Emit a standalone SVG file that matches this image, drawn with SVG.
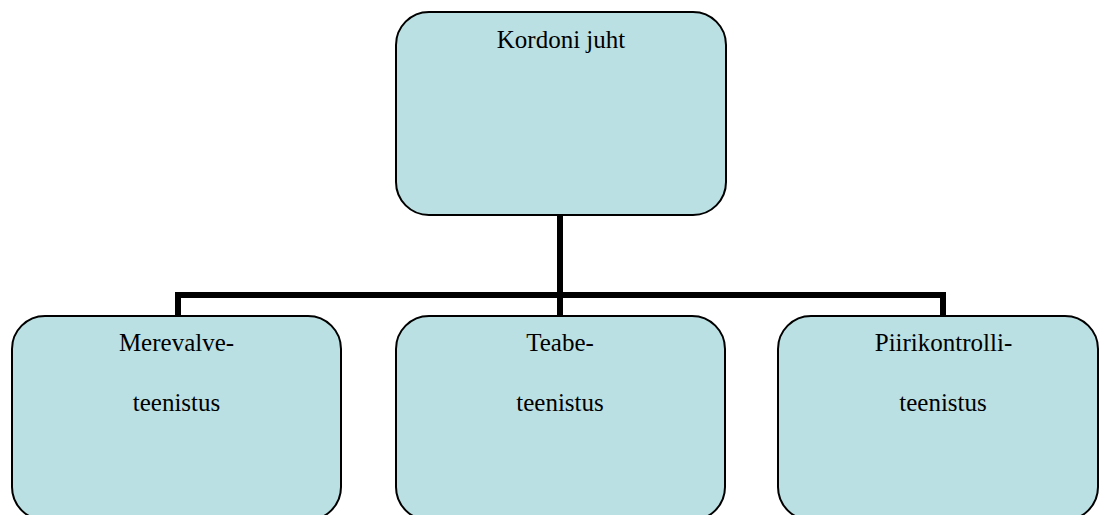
<svg xmlns="http://www.w3.org/2000/svg" width="1099" height="515" viewBox="0 0 1099 515">
<style>
.box{fill:#BBE0E3;stroke:#000;stroke-width:2}
.lbl{font-family:'Liberation Serif','Times New Roman',Times,'DejaVu Serif',serif;font-size:25px;fill:#000;text-anchor:middle}
.conn{fill:none;stroke:#000;stroke-width:6}
</style>
<rect width="1099" height="515" fill="#fff"/>
<g id="connectors">
<path class="conn" d="M560 215 V295"/>
<path class="conn" d="M175 295 H946"/>
<path class="conn" d="M178 292 V316"/>
<path class="conn" d="M560 292 V316"/>
<path class="conn" d="M943 292 V316"/>
</g>
<g id="node-kordoni">
<rect class="box" x="396" y="12" width="330" height="203" rx="33" ry="33"/>
<text class="lbl" x="561" y="48">Kordoni juht</text>
</g>
<g id="node-merevalve">
<rect class="box" x="12" y="316" width="329" height="204" rx="33" ry="33"/>
<text class="lbl" x="176.5" y="351">Merevalve-</text>
<text class="lbl" x="176.5" y="411">teenistus</text>
</g>
<g id="node-teabe">
<rect class="box" x="396" y="316" width="329" height="204" rx="33" ry="33"/>
<text class="lbl" x="560" y="351">Teabe-</text>
<text class="lbl" x="560" y="411">teenistus</text>
</g>
<g id="node-piirikontrolli">
<rect class="box" x="778" y="316" width="320" height="204" rx="33" ry="33"/>
<text class="lbl" x="943.5" y="351">Piirikontrolli-</text>
<text class="lbl" x="943" y="411">teenistus</text>
</g>
</svg>
